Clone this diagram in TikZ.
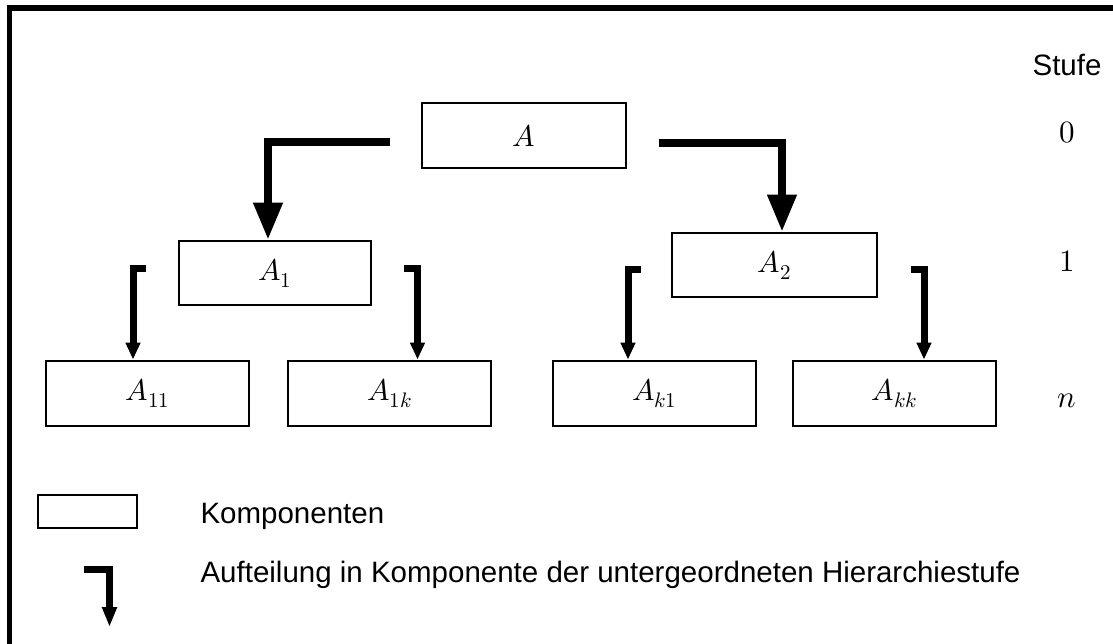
\documentclass[tikz,border=0pt]{standalone}
\usepackage{fontspec}
\usepackage{unicode-math}
\setmainfont{Liberation Sans}
\setmathfont{Latin Modern Math}
\usetikzlibrary{arrows.meta}

\begin{document}
\begin{tikzpicture}[
  x=1pt, y=1pt,
  comp/.style={rectangle, draw, line width=2.8pt, minimum width=203pt,
               minimum height=65pt, inner sep=0pt,
               font=\fontsize{30}{34}\selectfont},
  bigarr/.style={-{Triangle[length=37pt, width=28pt]}, line width=7.5pt,
                 line join=miter},
  arr/.style={-{Triangle[length=17pt, width=14pt]}, line width=7pt,
              line join=miter},
  lvl/.style={anchor=base, font=\fontsize{31}{36}\selectfont},
  txt/.style={anchor=base west, font=\fontsize{29.5}{35}\selectfont}
]
\useasboundingbox (0,0) rectangle (1113,643);

% frame (only left and top edge show)
\draw[line width=5.5pt, line join=miter] (9.5,-20) |- (1130,635);

% components
\node[comp, minimum width=204pt] (a) at (524,507.5) {$A$};
\node[comp, minimum width=192pt, minimum height=64pt] (a1) at (275,370) {$A_1$};
\node[comp, minimum width=205pt, minimum height=64pt] (a2) at (774.5,378) {$A_2$};
\node[comp] (a11) at (147.5,249.5) {$A_{11}$};
\node[comp] (a1k) at (389.5,249.5) {$A_{1k}$};
\node[comp] (ak1) at (654.5,249.5) {$A_{k1}$};
\node[comp] (akk) at (894.5,249.5) {$A_{kk}$};

% splitting arrows
\draw[bigarr] ([xshift=-31pt,yshift=-6.5pt]a.west) -| ([xshift=-7pt]a1.north);
\draw[bigarr] ([xshift=32pt,yshift=-7.5pt]a.east) -| ([xshift=7.5pt]a2.north);
\draw[arr] ([xshift=-32pt,yshift=4pt]a1.west) -| ([xshift=-14.5pt]a11.north);
\draw[arr] ([xshift=32pt,yshift=4pt]a1.east) -| ([xshift=28pt]a1k.north);
\draw[arr] ([xshift=-30pt,yshift=-5pt]a2.west) -| ([xshift=-26.5pt]ak1.north);
\draw[arr] ([xshift=33pt,yshift=-5pt]a2.east) -| ([xshift=29.5pt]akk.north);

% levels
\node[lvl, font=\fontsize{29.5}{35}\selectfont] (stufe) at (1067,567) {Stufe};
\node[lvl] (lvl0) at (1067,500) {$0$};
\node[lvl] (lvl1) at (1067,371) {$1$};
\node[lvl] (lvln) at (1067,236) {$n$};

% legend
\node[comp, minimum width=99pt, minimum height=33pt] (legbox) at (87.5,131.5) {};
\node[txt] (legcomp) at (197,120) {Komponenten};
\coordinate (legstart) at (84,73.5);
\coordinate (legtip) at (109.5,16);
\draw[line width=7pt, line join=miter, -{Triangle[length=20pt, width=14pt]}]
  (legstart) -| (legtip);
\node[txt] (legsplit) at (197,61)
  {Aufteilung in Komponente der untergeordneten Hierarchiestufe};

\end{tikzpicture}
\end{document}
